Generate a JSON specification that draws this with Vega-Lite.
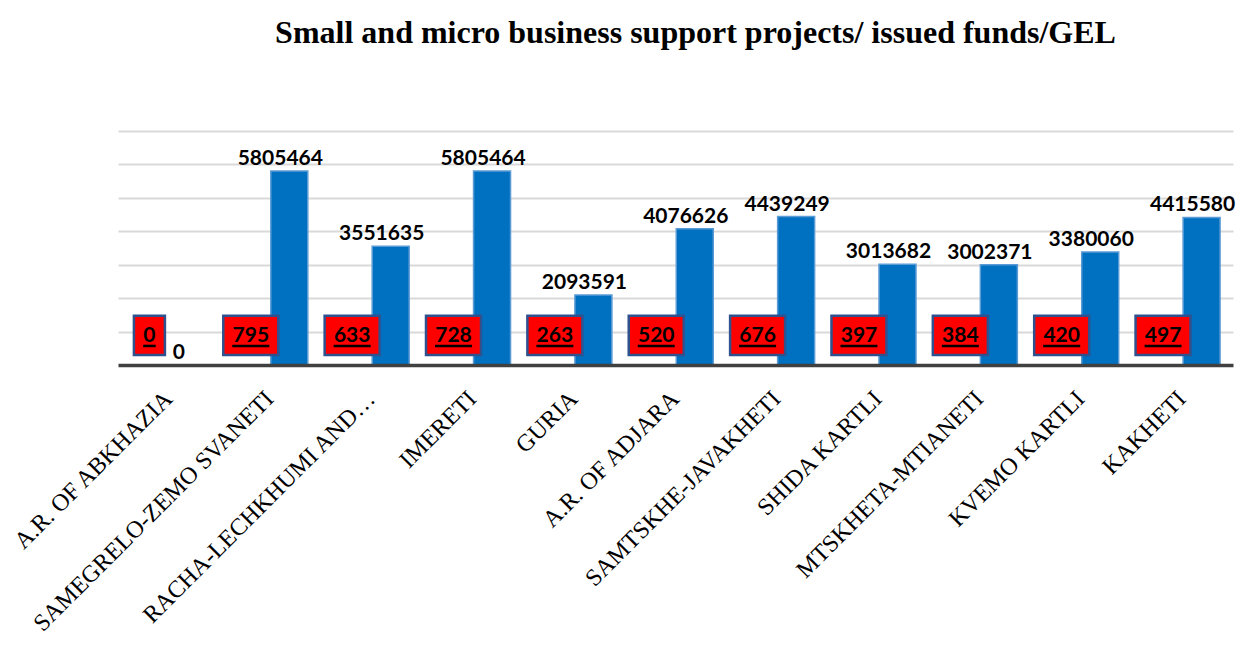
{
  "$schema": "https://vega.github.io/schema/vega-lite/v6.json",
  "width": 1115,
  "height": 234,
  "autosize": {"type": "none"},
  "padding": {"left": 118, "right": 6, "top": 131, "bottom": 297},
  "background": "white",
  "title": {
    "text": "Small and micro business support projects/ issued funds/GEL",
    "font": "Liberation Serif",
    "fontSize": 32,
    "fontWeight": "bold",
    "color": "black",
    "anchor": "middle",
    "dx": 20,
    "baseline": "alphabetic",
    "offset": 56
  },
  "config": {
    "view": {"stroke": null}
  },
  "resolve": {"scale": {"size": "independent"}},
  "data": {
    "values": [
      {"region": "A.R. OF ABKHAZIA", "projects": 0, "funds": 0},
      {"region": "SAMEGRELO-ZEMO SVANETI", "projects": 795, "funds": 5805464},
      {"region": "RACHA-LECHKHUMI AND…", "projects": 633, "funds": 3551635},
      {"region": "IMERETI", "projects": 728, "funds": 5805464},
      {"region": "GURIA", "projects": 263, "funds": 2093591},
      {"region": "A.R. OF ADJARA", "projects": 520, "funds": 4076626},
      {"region": "SAMTSKHE-JAVAKHETI", "projects": 676, "funds": 4439249},
      {"region": "SHIDA KARTLI", "projects": 397, "funds": 3013682},
      {"region": "MTSKHETA-MTIANETI", "projects": 384, "funds": 3002371},
      {"region": "KVEMO KARTLI", "projects": 420, "funds": 3380060},
      {"region": "KAKHETI", "projects": 497, "funds": 4415580}
    ]
  },
  "transform": [
    {"fold": ["projects", "funds"], "as": ["series", "value"]},
    {"calculate": "length(format(datum.value, 'd'))", "as": "digits"}
  ],
  "encoding": {
    "x": {
      "field": "region",
      "type": "nominal",
      "sort": null,
      "scale": {"paddingInner": 0.255, "paddingOuter": 0.1275},
      "axis": {
        "title": null,
        "labelAngle": -45,
        "labelAlign": "right",
        "labelBaseline": "middle",
        "labelFont": "Liberation Serif",
        "labelFontSize": 24,
        "labelColor": "black",
        "labelPadding": 30,
        "labelLimit": 400,
        "ticks": false,
        "domainColor": "#404040",
        "domainWidth": 3.5,
        "zindex": 1
      }
    },
    "xOffset": {
      "field": "series",
      "type": "nominal",
      "scale": {"domain": ["projects", "funds"], "paddingInner": 0.04}
    }
  },
  "layer": [
    {
      "mark": {"type": "bar", "strokeWidth": 1.5},
      "encoding": {
        "y": {
          "field": "value",
          "type": "quantitative",
          "scale": {"domain": [0, 7000000], "nice": false},
          "axis": {
            "title": null,
            "labels": false,
            "labelOverlap": false,
            "ticks": false,
            "domain": false,
            "grid": true,
            "gridColor": "#D9D9D9",
            "gridWidth": 2,
            "tickCount": 7,
            "values": [1000000, 2000000, 3000000, 4000000, 5000000, 6000000, 7000000]
          }
        },
        "color": {
          "field": "series",
          "type": "nominal",
          "scale": {"domain": ["projects", "funds"], "range": ["#FF0000", "#0070C0"]},
          "legend": null
        },
        "stroke": {
          "field": "series",
          "type": "nominal",
          "scale": {"domain": ["projects", "funds"], "range": ["#FF0000", "#5B9BD5"]},
          "legend": null
        }
      }
    },
    {
      "transform": [{"filter": "datum.series === 'projects'"}],
      "mark": {"type": "bar", "fill": "#FF0000", "stroke": "#2F528F", "strokeWidth": 2.5},
      "encoding": {
        "y": {"datum": 300000, "type": "quantitative"},
        "y2": {"datum": 1470000},
        "size": {
          "field": "digits",
          "type": "quantitative",
          "scale": {"domain": [1, 3], "range": [31, 55]},
          "legend": null
        }
      }
    },
    {
      "transform": [{"filter": "datum.series === 'projects'"}],
      "mark": {"type": "tick", "color": "black", "thickness": 2.5, "opacity": 1},
      "encoding": {
        "y": {"datum": 570000, "type": "quantitative"},
        "size": {
          "field": "digits",
          "type": "quantitative",
          "scale": {"domain": [1, 3], "range": [12.5, 37]},
          "legend": null
        }
      }
    },
    {
      "transform": [{"filter": "datum.series === 'projects'"}],
      "mark": {"type": "text", "font": "Lato", "fontWeight": "bold", "fontSize": 21, "color": "black", "baseline": "middle", "dy": 1},
      "encoding": {
        "y": {"datum": 885000, "type": "quantitative"},
        "text": {"field": "value", "type": "quantitative", "format": "d"}
      }
    },
    {
      "transform": [{"filter": "datum.series === 'funds'"}],
      "mark": {"type": "text", "font": "Lato", "fontWeight": "bold", "fontSize": 21, "color": "black", "baseline": "alphabetic", "dy": -6, "dx": -9},
      "encoding": {
        "y": {"field": "value", "type": "quantitative"},
        "text": {"field": "value", "type": "quantitative", "format": "d"}
      }
    }
  ]
}
